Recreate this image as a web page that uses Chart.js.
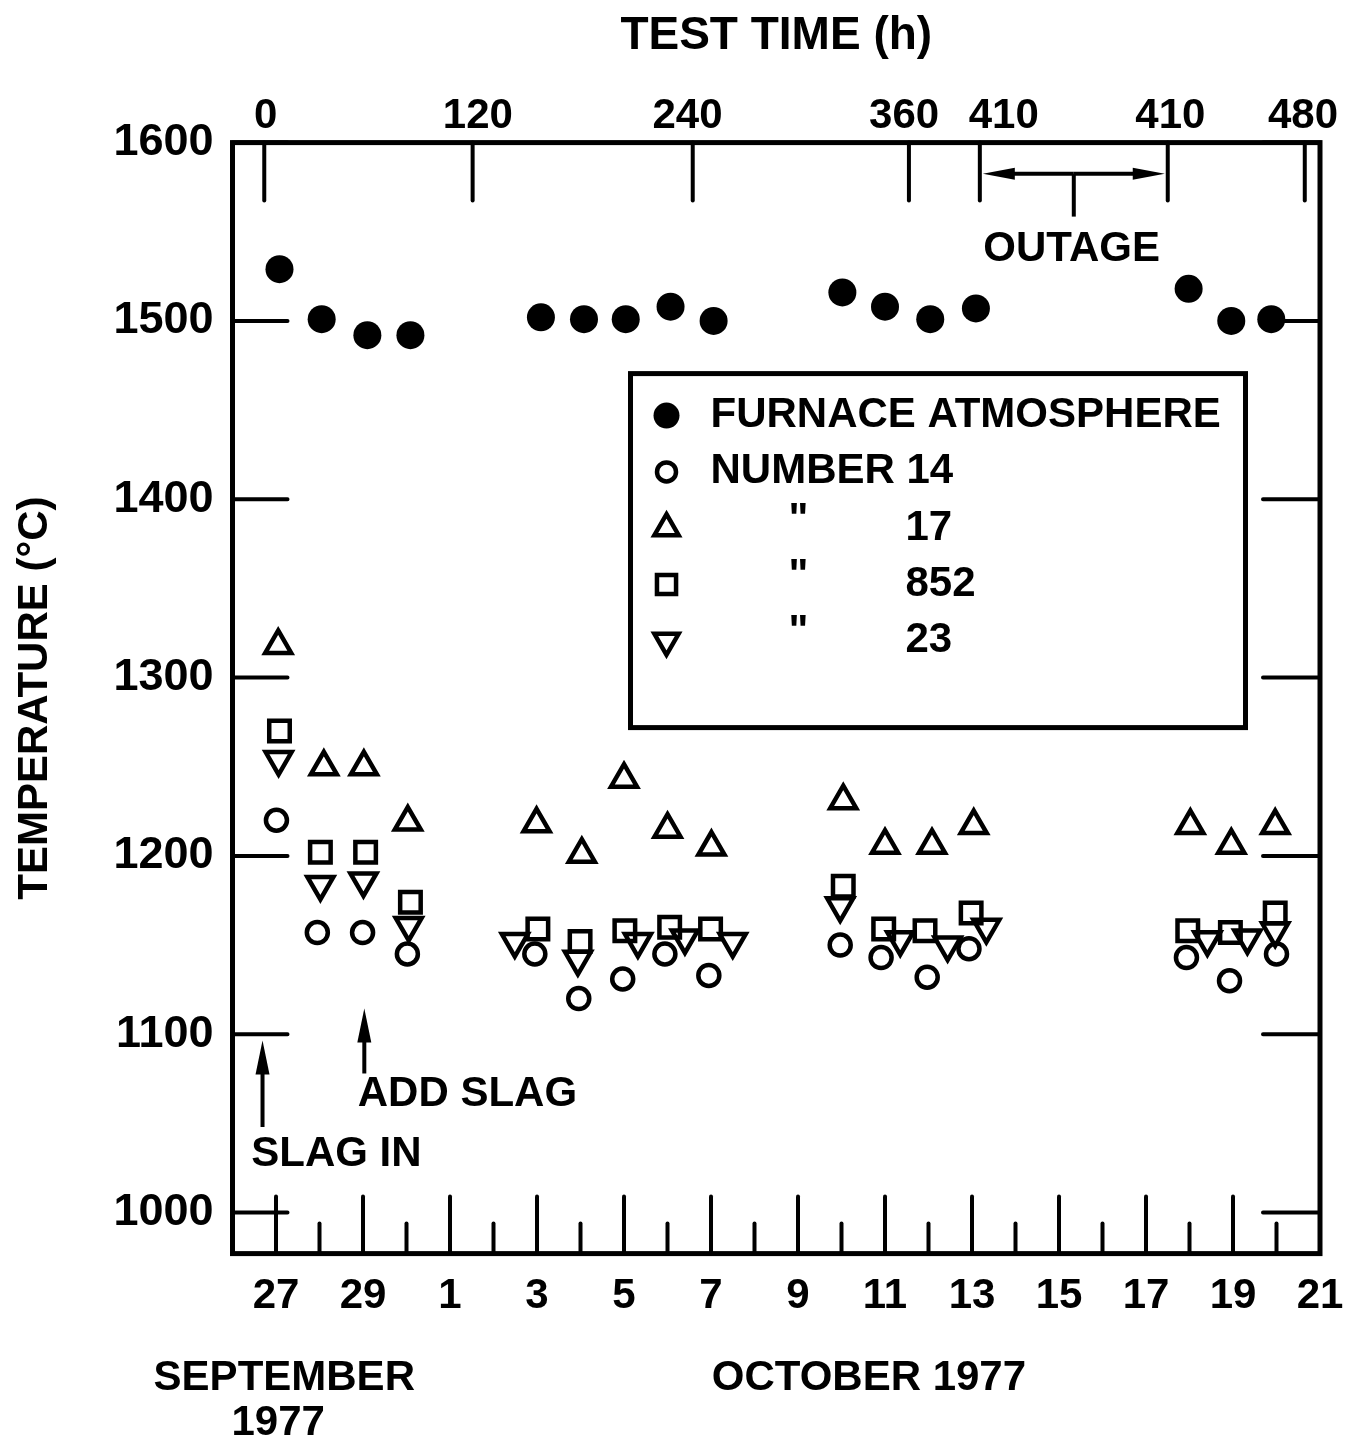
<!DOCTYPE html>
<html>
<head>
<meta charset="utf-8">
<script src="https://cdn.jsdelivr.net/npm/chart.js@4.4.1/dist/chart.umd.min.js"></script>
<style>
  body { margin: 0; background: #fff; }
  #chart { display: block; }
</style>
</head>
<body>
<canvas id="chart" width="1347" height="1443"></canvas>
<script>
// x values are days counted from 27 September 1977 (27 Sep = 0, 1 Oct = 4, 21 Oct = 24)
var dateTickDays = [0, 2, 4, 6, 8, 10, 12, 14, 16, 18, 20, 22, 24];
var dateTickLabels = ['27', '29', '1', '3', '5', '7', '9', '11', '13', '15', '17', '19', '21'];
var minorTickDays = [1, 3, 5, 7, 9, 11, 13, 15, 17, 19, 21, 23];

// test time axis on top (hours), outage between the two 410 h marks
var hourTickDays = [-0.27, 4.52, 9.58, 14.55, 16.18, 20.5, 23.65];
var hourLabelDays = [-0.24, 4.64, 9.46, 14.44, 16.73, 20.56, 23.61];
var hourLabels = ['0', '120', '240', '360', '410', '410', '480'];

var tempTicks = [1000, 1100, 1200, 1300, 1400, 1500, 1600];

var furnaceDays = [0.08, 1.05, 2.10, 3.09, 6.09, 7.08, 8.04, 9.07, 10.06, 13.02, 14.00, 15.04, 16.09, 20.98, 21.96, 22.88];
var furnaceTemp = [1529, 1501, 1492, 1492, 1502, 1501, 1501, 1508, 1500, 1516, 1508, 1501, 1507, 1518, 1500, 1501];

var no14Days = [0.01, 0.95, 1.99, 3.02, 5.95, 6.96, 7.97, 8.94, 9.95, 12.97, 13.91, 14.97, 15.93, 20.93, 21.92, 23.00];
var no14Temp = [1220, 1157, 1157, 1145, 1145, 1120, 1131, 1145, 1133, 1150, 1143, 1132, 1148, 1143, 1130, 1145];

var no17Days = [0.05, 1.10, 2.02, 3.03, 5.99, 7.03, 8.00, 9.00, 10.01, 13.04, 14.00, 15.08, 16.04, 21.02, 21.96, 22.97];
var no17Temp = [1318, 1250, 1250, 1219, 1218, 1201, 1243, 1215, 1205, 1231, 1206, 1206, 1217, 1217, 1206, 1217];

var no852Days = [0.08, 1.02, 2.06, 3.09, 6.02, 6.99, 8.02, 9.05, 9.99, 13.04, 13.97, 14.92, 15.98, 20.96, 21.94, 22.97];
var no852Temp = [1270, 1202, 1202, 1174, 1159, 1152, 1158, 1160, 1159, 1183, 1159, 1158, 1168, 1158, 1157, 1168];

var no23Days = [0.06, 1.02, 2.01, 3.05, 5.49, 6.94, 8.32, 9.40, 10.50, 12.97, 14.35, 15.44, 16.33, 21.41, 22.33, 22.97];
var no23Temp = [1254, 1184, 1186, 1161, 1152, 1142, 1152, 1154, 1152, 1172, 1153, 1150, 1160, 1153, 1154, 1158];

var FONT = 'bold 42px "Liberation Sans", Arial, sans-serif';
var INK = '#000';

function points(days, temps) {
  return days.map(function(d, i) { return { x: d, y: temps[i] }; });
}

function series(label, days, temps, style, radius, rotation, filled) {
  return {
    label: label,
    data: points(days, temps),
    showLine: false,
    pointStyle: style,
    pointRadius: radius,
    pointRotation: rotation,
    pointBorderWidth: filled ? 0 : 4.5,
    pointBorderColor: INK,
    pointBackgroundColor: filled ? INK : 'rgba(0,0,0,0)',
    clip: false
  };
}

var datasets = [
  series('FURNACE ATMOSPHERE', furnaceDays, furnaceTemp, 'circle', 14, 0, true),
  series('NUMBER 14', no14Days, no14Temp, 'circle', 10.5, 0, false),
  series('NUMBER 17', no17Days, no17Temp, 'triangle', 15, 0, false),
  series('NUMBER 852', no852Days, no852Temp, 'rect', 14.5, 0, false),
  series('NUMBER 23', no23Days, no23Temp, 'triangle', 15, 180, false)
];

// legend rows: first two spelled out, the rest are ditto + sample number
var legendText = ['FURNACE ATMOSPHERE', 'NUMBER 14', '17', '852', '23'];

function arrow(ctx, x1, y1, x2, y2, headLen, headHalf) {
  var a = Math.atan2(y2 - y1, x2 - x1);
  ctx.beginPath();
  ctx.moveTo(x1, y1);
  ctx.lineTo(x2 - Math.cos(a) * headLen * 0.6, y2 - Math.sin(a) * headLen * 0.6);
  ctx.stroke();
  ctx.beginPath();
  ctx.moveTo(x2, y2);
  ctx.lineTo(x2 - Math.cos(a) * headLen - Math.sin(a) * headHalf, y2 - Math.sin(a) * headLen + Math.cos(a) * headHalf);
  ctx.lineTo(x2 - Math.cos(a) * headLen + Math.sin(a) * headHalf, y2 - Math.sin(a) * headLen - Math.cos(a) * headHalf);
  ctx.closePath();
  ctx.fill();
}

var paper = {
  id: 'paper',
  beforeDraw: function(chart) {
    var ctx = chart.ctx;
    ctx.save();
    ctx.fillStyle = '#fff';
    ctx.fillRect(0, 0, chart.width, chart.height);
    ctx.restore();
  }
};

var frame = {
  id: 'frame',
  beforeDatasetsDraw: function(chart) {
    var ctx = chart.ctx, a = chart.chartArea;
    var x = chart.scales.x, y = chart.scales.y;
    ctx.save();
    ctx.strokeStyle = INK;
    ctx.lineCap = 'round';
    ctx.lineWidth = 4;
    // temperature ticks, inside on both sides
    tempTicks.forEach(function(t) {
      var py = y.getPixelForValue(t);
      ctx.beginPath();
      ctx.moveTo(a.left, py); ctx.lineTo(a.left + 55, py);
      ctx.moveTo(a.right - 57, py); ctx.lineTo(a.right, py);
      ctx.stroke();
    });
    // day ticks along the bottom
    dateTickDays.forEach(function(d) {
      if (d >= 24) return;
      var px = x.getPixelForValue(d);
      ctx.beginPath(); ctx.moveTo(px, a.bottom); ctx.lineTo(px, a.bottom - 57); ctx.stroke();
    });
    minorTickDays.forEach(function(d) {
      var px = x.getPixelForValue(d);
      ctx.beginPath(); ctx.moveTo(px, a.bottom); ctx.lineTo(px, a.bottom - 30); ctx.stroke();
    });
    // test time ticks along the top
    hourTickDays.forEach(function(d) {
      var px = x.getPixelForValue(d);
      ctx.beginPath(); ctx.moveTo(px, a.top); ctx.lineTo(px, a.top + 58); ctx.stroke();
    });
    // frame
    ctx.lineWidth = 5;
    ctx.lineCap = 'butt';
    ctx.strokeRect(a.left, a.top, a.right - a.left, a.bottom - a.top);
    ctx.restore();
  },
  afterDatasetsDraw: function(chart) {
    var ctx = chart.ctx, a = chart.chartArea;
    var x = chart.scales.x, y = chart.scales.y;
    ctx.save();
    ctx.strokeStyle = INK;
    ctx.fillStyle = INK;
    ctx.font = FONT;
    ctx.lineWidth = 4;

    // outage span between the two 410 h marks
    var o1 = x.getPixelForValue(hourTickDays[4]), o2 = x.getPixelForValue(hourTickDays[5]);
    var oy = y.getPixelForValue(1582.5), om = (o1 + o2) / 2;
    arrow(ctx, om, oy, o1 + 3, oy, 32, 6);
    arrow(ctx, om, oy, o2 - 3, oy, 32, 6);
    ctx.beginPath(); ctx.moveTo(om, oy); ctx.lineTo(om, y.getPixelForValue(1558.5)); ctx.stroke();
    ctx.textAlign = 'center';
    ctx.textBaseline = 'middle';
    ctx.fillText('OUTAGE', x.getPixelForValue(18.29), y.getPixelForValue(1540));

    // slag notes
    var sx = x.getPixelForValue(-0.31);
    arrow(ctx, sx, y.getPixelForValue(1048), sx, y.getPixelForValue(1096.5), 34, 7);
    var ax = x.getPixelForValue(2.03);
    arrow(ctx, ax, y.getPixelForValue(1078), ax, y.getPixelForValue(1114.5), 34, 7);
    ctx.textAlign = 'left';
    ctx.fillText('SLAG IN', x.getPixelForValue(-0.57), y.getPixelForValue(1032.5));
    ctx.fillText('ADD SLAG', x.getPixelForValue(1.88), y.getPixelForValue(1066));

    // month captions under the day labels
    ctx.textAlign = 'center';
    ctx.fillText('SEPTEMBER', x.getPixelForValue(0.19), a.bottom + 125);
    ctx.fillText('1977', x.getPixelForValue(0.05), a.bottom + 170);
    ctx.fillText('OCTOBER 1977', x.getPixelForValue(13.63), a.bottom + 125);

    // legend box
    var bx = a.left + 398, by = a.top + 231, bw = 615, bh = 354;
    ctx.fillStyle = '#fff';
    ctx.fillRect(bx, by, bw, bh);
    ctx.lineWidth = 5;
    ctx.strokeRect(bx, by, bw, bh);
    ctx.fillStyle = INK;
    ctx.lineWidth = 4.5;
    ctx.textAlign = 'left';
    chart.data.datasets.forEach(function(ds, i) {
      var ry = by + 42 + i * 56.3;
      ctx.fillStyle = ds.pointBackgroundColor;
      Chart.helpers.drawPoint(ctx, {
        pointStyle: ds.pointStyle, radius: ds.pointRadius - 1,
        rotation: ds.pointRotation, borderWidth: ds.pointBorderWidth
      }, bx + 36, ry);
      ctx.fillStyle = INK;
      if (i < 2) {
        ctx.fillText(legendText[i], bx + 80, ry);
      } else {
        ctx.textAlign = 'center';
        ctx.fillText('"', bx + 168, ry - 8);
        ctx.textAlign = 'left';
        ctx.fillText(legendText[i], bx + 275, ry);
      }
    });
    ctx.restore();
  }
};

var tickFont = { family: '"Liberation Sans", Arial, sans-serif', size: 42, weight: 'bold' };
var yTickFont = { family: '"Liberation Sans", Arial, sans-serif', size: 45, weight: 'bold' };
var topTitleFont = { family: '"Liberation Sans", Arial, sans-serif', size: 46, weight: 'bold' };
var noGrid = { display: false, drawTicks: false };

// labels at the ends may overhang the plot; keep the plot edge where it is
function noSidePadding(s) { s.paddingLeft = 0; s.paddingRight = 0; }

new Chart(document.getElementById('chart'), {
  type: 'scatter',
  data: { datasets: datasets },
  options: {
    responsive: false,
    animation: false,
    events: [],
    layout: { autoPadding: false, padding: { left: 10, right: 27, top: 9, bottom: 103 } },
    plugins: { legend: { display: false }, tooltip: { enabled: false } },
    scales: {
      x: {
        type: 'linear', position: 'bottom', min: -1, max: 24, bounds: 'data',
        grid: noGrid, border: { display: false },
        afterBuildTicks: function(s) { s.ticks = dateTickDays.map(function(v) { return { value: v }; }); },
        afterFit: noSidePadding,
        ticks: {
          autoSkip: false, maxRotation: 0, padding: 18, color: INK, font: tickFont,
          callback: function(v, i) { return dateTickLabels[i]; }
        }
      },
      x2: {
        type: 'linear', position: 'top', min: -1, max: 24, bounds: 'data',
        grid: noGrid, border: { display: false },
        afterBuildTicks: function(s) { s.ticks = hourLabelDays.map(function(v) { return { value: v }; }); },
        afterFit: noSidePadding,
        ticks: {
          autoSkip: false, maxRotation: 0, padding: 1, color: INK, font: tickFont,
          callback: function(v, i) { return hourLabels[i]; }
        },
        title: { display: true, text: 'TEST TIME (h)', color: INK, font: topTitleFont, padding: { top: 0, bottom: 26 } }
      },
      y: {
        type: 'linear', position: 'left', min: 977, max: 1600, bounds: 'data',
        grid: noGrid, border: { display: false },
        afterBuildTicks: function(s) { s.ticks = tempTicks.map(function(v) { return { value: v }; }); },
        ticks: {
          autoSkip: false, padding: 19, color: INK, font: yTickFont,
          callback: function(v) { return String(v); }
        },
        title: { display: true, text: 'TEMPERATURE (°C)', color: INK, font: tickFont, padding: { top: 0, bottom: 34 } }
      }
    }
  },
  plugins: [paper, frame]
});
</script>
</body>
</html>
